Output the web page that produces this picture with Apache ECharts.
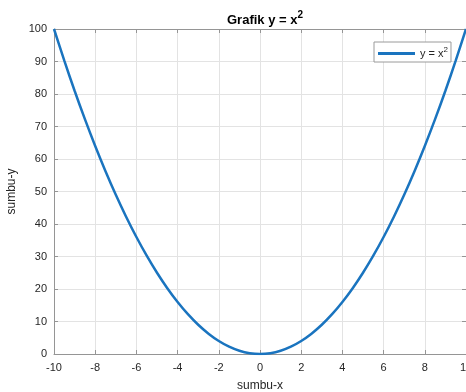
<!DOCTYPE html>
<html>
<head>
<meta charset="utf-8">
<script src="https://cdn.jsdelivr.net/npm/echarts@6/dist/echarts.min.js"></script>
<style>
  html, body { margin: 0; padding: 0; background: #fff; }
  #chart { width: 466px; height: 392px; }
</style>
</head>
<body>
<div id="chart"></div>
<script>
// values
const xValues = [-10, -9.5, -9, -8.5, -8, -7.5, -7, -6.5, -6, -5.5, -5, -4.5, -4, -3.5, -3, -2.5, -2, -1.5, -1, -0.5, 0,
  0.5, 1, 1.5, 2, 2.5, 3, 3.5, 4, 4.5, 5, 5.5, 6, 6.5, 7, 7.5, 8, 8.5, 9, 9.5, 10]
const yValues = [100, 90.25, 81, 72.25, 64, 56.25, 49, 42.25, 36, 30.25, 25, 20.25, 16, 12.25, 9, 6.25, 4, 2.25, 1, 0.25, 0,
  0.25, 1, 2.25, 4, 6.25, 9, 12.25, 16, 20.25, 25, 30.25, 36, 42.25, 49, 56.25, 64, 72.25, 81, 90.25, 100]

const font = 'Liberation Sans, Arial, sans-serif'
const axisGray = '#959595'
const textGray = '#262626'
const gridGray = '#e3e3e3'
const lineBlue = '#1a74bf'

const chart = echarts.init(document.getElementById('chart'), null, { renderer: 'canvas' })

const hiddenSide = {
  type: 'value',
  axisLine: { show: true, onZero: false, lineStyle: { color: axisGray, width: 1 } },
  axisTick: { show: true, inside: true, length: 4, lineStyle: { color: axisGray } },
  axisLabel: { show: false },
  splitLine: { show: false },
}

chart.setOption({
  animation: false,
  textStyle: { fontFamily: font },
  title: {
    text: '{t|Grafik y = x}{s|2}',
    left: 260,
    textAlign: 'center',
    top: 5,
    textStyle: {
      rich: {
        t: { fontFamily: font, fontSize: 13, fontWeight: 'bold', color: '#000', verticalAlign: 'bottom' },
        s: { fontFamily: font, fontSize: 10, fontWeight: 'bold', color: '#000', verticalAlign: 'top', padding: [0, 0, 7, 0] },
      },
    },
  },
  legend: {
    left: 374,
    top: 42,
    orient: 'vertical',
    backgroundColor: '#fff',
    borderColor: '#9a9a9a',
    borderWidth: 1,
    borderRadius: 0,
    padding: [4, 3, 3, 4],
    icon: 'rect',
    itemWidth: 37,
    itemHeight: 3,
    itemGap: 0,
    data: ['y = x2'],
    formatter: () => '{a|y = x}{s|2}',
    textStyle: {
      rich: {
        a: { fontFamily: font, fontSize: 11, color: textGray },
        s: { fontFamily: font, fontSize: 8, color: textGray, padding: [0, 0, 7, 0] },
      },
    },
  },
  grid: { left: 54, right: 0, top: 29, bottom: 38, outerBoundsMode: 'none', containLabel: false },
  xAxis: [
    {
      type: 'value',
      min: -10,
      max: 10,
      interval: 2,
      name: 'sumbu-x',
      nameLocation: 'middle',
      nameGap: 26,
      nameTextStyle: { fontFamily: font, fontSize: 12, color: textGray },
      axisLine: { show: true, onZero: false, lineStyle: { color: axisGray, width: 1 } },
      axisTick: { show: true, inside: true, length: 4, lineStyle: { color: axisGray } },
      axisLabel: { fontFamily: font, fontSize: 11, color: textGray, margin: 8, showMaxLabel: true },
      splitLine: { show: true, lineStyle: { color: gridGray, width: 1 } },
    },
    Object.assign({}, hiddenSide, { position: 'top', min: -10, max: 10, interval: 2 }),
  ],
  yAxis: [
    {
      type: 'value',
      min: 0,
      max: 100,
      interval: 10,
      name: 'sumbu-y',
      nameLocation: 'middle',
      nameGap: 34,
      nameTextStyle: { fontFamily: font, fontSize: 12, color: textGray },
      axisLine: { show: true, onZero: false, lineStyle: { color: axisGray, width: 1 } },
      axisTick: { show: true, inside: true, length: 4, lineStyle: { color: axisGray } },
      axisLabel: { fontFamily: font, fontSize: 11, color: textGray, margin: 7 },
      splitLine: { show: true, lineStyle: { color: gridGray, width: 1 } },
    },
    Object.assign({}, hiddenSide, { position: 'right', min: 0, max: 100, interval: 10 }),
  ],
  series: [
    {
      name: 'y = x2',
      type: 'line',
      data: xValues.map((x, i) => [x, yValues[i]]),
      smooth: 0.3,
      showSymbol: false,
      clip: true,
      lineStyle: { color: lineBlue, width: 2.5 },
      itemStyle: { color: lineBlue },
    },
  ],
})
</script>
</body>
</html>
